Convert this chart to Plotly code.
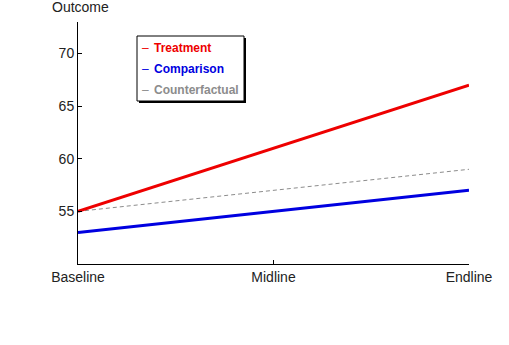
import plotly.graph_objects as go

# Survey rounds and outcome values per group
rounds = ["Baseline", "Midline", "Endline"]
treatment = [55, 61, 67]
comparison = [53, 55, 57]
counterfactual = [55, 57, 59]

y_ticks = [55, 60, 65, 70]

W, H = 509, 345
L, R, T, B = 78, 40, 22, 81
pw, ph = W - L - R, H - T - B


def px_x(x):
    return (x - L) / pw


def px_y(y):
    return 1 - (y - T) / ph


fig = go.Figure()
x_idx = list(range(len(rounds)))
fig.add_trace(go.Scatter(x=x_idx, y=counterfactual, mode="lines",
                         line=dict(color="#8c8c8c", width=1, dash="4px,3px"),
                         name="Counterfactual", showlegend=False))
fig.add_trace(go.Scatter(x=x_idx, y=comparison, mode="lines",
                         line=dict(color="#0000e0", width=3),
                         name="Comparison", showlegend=False))
fig.add_trace(go.Scatter(x=x_idx, y=treatment, mode="lines",
                         line=dict(color="#ee0000", width=3),
                         name="Treatment", showlegend=False))

axis_font = dict(family="Liberation Sans, Arial, sans-serif", size=14, color="#222222")

fig.update_xaxes(range=[0, 2], tickvals=x_idx, ticktext=rounds,
                 showgrid=False, zeroline=False, showline=True,
                 linecolor="black", linewidth=1, ticks="inside", ticklen=4,
                 tickcolor="black", tickfont=axis_font)
fig.update_yaxes(range=[50, 73], tickvals=y_ticks,
                 showgrid=False, zeroline=False, showline=True,
                 linecolor="black", linewidth=1, ticks="inside", ticklen=4,
                 tickcolor="black", tickfont=axis_font)

# Legend box with drop shadow
bx0, bx1, by0, by1 = 137, 244, 36, 101
shapes = [
    dict(type="rect", xref="paper", yref="paper",
         x0=px_x(bx0 + 2), x1=px_x(bx1 + 2), y0=px_y(by1 + 2), y1=px_y(by0 + 2),
         fillcolor="black", line=dict(width=0)),
    dict(type="rect", xref="paper", yref="paper",
         x0=px_x(bx0), x1=px_x(bx1), y0=px_y(by1), y1=px_y(by0),
         fillcolor="white", line=dict(color="black", width=1)),
]

legend_items = [("Treatment", "#ee0000", "#ee0000", 48),
                ("Comparison", "#0000e0", "#0000e0", 69),
                ("Counterfactual", "#8c8c8c", "#8c8c8c", 90)]
annotations = []
for label, col, mark_col, yy in legend_items:
    annotations.append(dict(xref="paper", yref="paper", x=px_x(140), y=px_y(yy),
                            xanchor="left", yanchor="middle", showarrow=False,
                            text="–", font=dict(family="Liberation Sans, Arial, sans-serif",
                                                size=12, color=mark_col)))
    annotations.append(dict(xref="paper", yref="paper", x=px_x(152), y=px_y(yy),
                            xanchor="left", yanchor="middle", showarrow=False,
                            text=f"<b>{label}</b>",
                            font=dict(family="Liberation Sans, Arial, sans-serif",
                                      size=12, color=col)))

annotations.append(dict(xref="paper", yref="paper", x=px_x(50), y=px_y(7),
                        xanchor="left", yanchor="middle", showarrow=False,
                        text="Outcome", font=axis_font))

fig.update_layout(width=W, height=H, margin=dict(l=L, r=R, t=T, b=B),
                  plot_bgcolor="white", paper_bgcolor="white",
                  shapes=shapes, annotations=annotations, showlegend=False)

fig.write_html("out.html")
